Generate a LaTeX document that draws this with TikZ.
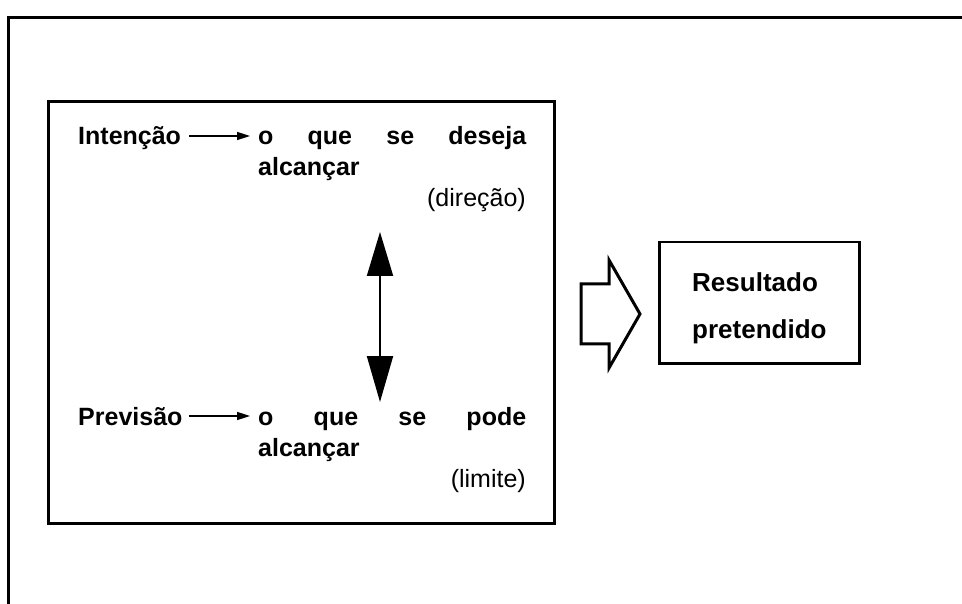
\documentclass[tikz,border=0pt]{standalone}
\usepackage{fontspec}
\setmainfont{Liberation Sans}
\usetikzlibrary{arrows.meta}
\begin{document}
\begin{tikzpicture}[x=1pt,y=-1pt,
  frame/.style={line width=3pt},
  lbl/.style={font=\bfseries\fontsize{25}{30}\selectfont, inner sep=0pt, anchor=base west},
  note/.style={font=\fontsize{25}{30}\selectfont, inner sep=0pt, anchor=base east},
  small/.style={line width=1.6pt, -{Triangle[length=13pt,width=8pt]}},
  dbl/.style={line width=2pt, {Triangle[length=44pt,width=26pt]}-{Triangle[length=46pt,width=26pt]}},
]
\useasboundingbox (0,0) rectangle (962,604);
\draw[frame] (8,604) -- (8,18) -- (962,18);
\node[draw, frame, minimum width=506pt, minimum height=422pt, anchor=north west, inner sep=0pt] (box) at (47,100) {};
% upper block
\node[lbl] (int) at (78,145) {Intenção};
\node[lbl] (q1) at (258,145) {\makebox[268pt][s]{o que se deseja}};
\node[lbl] (a1) at (258,176) {alcançar};
\node[note] (d1) at (526,207) {(direção)};
\draw[small] ([xshift=8pt,yshift=9pt]int.base east) -- ([xshift=-8pt,yshift=9pt]q1.base west);
% lower block
\node[lbl] (prv) at (78,425) {Previsão};
\node[lbl] (q2) at (258,425) {\makebox[268pt][s]{o que se pode}};
\node[lbl] (a2) at (258,456) {alcançar};
\node[note] (d2) at (526,487) {(limite)};
\draw[small] ([xshift=6pt,yshift=9pt]prv.base east) -- ([xshift=-8pt,yshift=9pt]q2.base west);
% double arrow
\coordinate (up) at (380,232);
\coordinate (dn) at (380,402);
\draw[dbl] (up) -- (dn);
% block arrow
\draw[frame, line join=miter] (581,284) -- (609,284) -- (609,260) -- (640,314) -- (609,368) -- (609,344) -- (581,344) -- cycle;
% result box
\node[draw, line width=2.5pt, minimum width=200pt, minimum height=121pt, anchor=north west] (res) at (658,241) {};
\node[lbl, font=\bfseries\fontsize{26}{30}\selectfont] (r1) at (692,292) {Resultado};
\node[lbl, font=\bfseries\fontsize{26}{30}\selectfont] (r2) at (692,338) {pretendido};
\end{tikzpicture}
\end{document}
